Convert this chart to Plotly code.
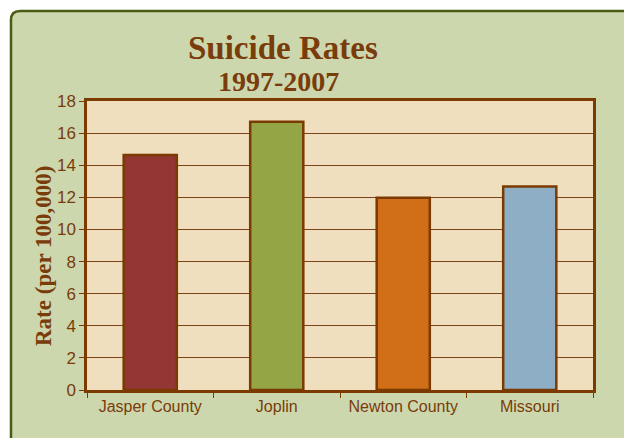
import plotly.graph_objects as go

categories = ["Jasper County", "Joplin", "Newton County", "Missouri"]
rates = [14.63, 16.71, 11.98, 12.68]
bar_colors = ["#943634", "#94a545", "#d06f17", "#8eaec5"]
y_ticks = [0, 2, 4, 6, 8, 10, 12, 14, 16, 18]

brown = "#7a3c0a"
panel = "#ccd7ad"

# page offset of 8px (body margin); plot area on page: x 87..593, y 101..390
OFF = 8
W, H = 632 - OFF, 438 - OFF
L, T = 87 - OFF, 101 - OFF
R = W - (593 - OFF)
B = H - (390 - OFF)
pw, ph = W - L - R, H - T - B

def px(x):
    return (x - 87) / pw

def py(y):
    return (390 - y) / ph

fig = go.Figure()
fig.add_trace(go.Bar(
    x=categories, y=rates, width=0.42,
    marker=dict(color=bar_colors, line=dict(color="#7a3a00", width=2.5)),
    hoverinfo="x+y",
))

x0, y1 = px(11), py(11)
dx, dy = 9 / pw, 9 / ph
xl, xr, yb, yt = px(-20), px(700), py(500), py(-20)
outside = (f"M {xl},{yb} L {xl},{yt} L {xr},{yt} L {xr},{y1} L {x0 + dx},{y1} "
           f"Q {x0},{y1} {x0},{y1 - dy} L {x0},{yb} Z")
border = f"M {x0},{yb} L {x0},{y1 - dy} Q {x0},{y1} {x0 + dx},{y1} L {xr},{y1}"

serif = "Liberation Serif, Times New Roman, serif"

fig.update_layout(
    width=W, height=H,
    margin=dict(l=L, r=R, t=T, b=B),
    paper_bgcolor=panel,
    plot_bgcolor="#f0dfbe",
    showlegend=False,
    font=dict(family="Liberation Sans, Arial, sans-serif", color=brown, size=16),
    shapes=[
        dict(type="path", xref="paper", yref="paper", path=outside,
             fillcolor="white", line=dict(width=0), layer="below"),
        dict(type="path", xref="paper", yref="paper", path=border,
             line=dict(color="#4a5c12", width=2.5), layer="below"),
    ],
    annotations=[
        dict(text="<b>Suicide Rates</b>", x=px(283), y=py(48), xref="paper", yref="paper",
             showarrow=False, xanchor="center", yanchor="middle",
             font=dict(family=serif, size=33, color=brown)),
        dict(text="<b>1997-2007</b>", x=px(278), y=py(81), xref="paper", yref="paper",
             showarrow=False, xanchor="center", yanchor="middle",
             font=dict(family=serif, size=28, color=brown)),
        dict(text="<b>Rate (per 100,000)</b>", x=px(43), y=py(256), xref="paper", yref="paper",
             showarrow=False, xanchor="center", yanchor="middle", textangle=-90,
             font=dict(family=serif, size=23, color=brown)),
    ],
)

fig.update_yaxes(
    range=[0, 18], tickvals=y_ticks, ticktext=[str(v) for v in y_ticks],
    showgrid=True, gridcolor="#7a4418", gridwidth=1,
    showline=True, linecolor="#7a3a00", linewidth=2.5, mirror=True,
    ticks="outside", ticklen=5, tickcolor="#7a3a00", tickwidth=1,
    tickfont=dict(size=17, color=brown), zeroline=False, fixedrange=True,
)
fig.update_xaxes(
    showline=True, linecolor="#7a3a00", linewidth=2.5, mirror=True,
    ticks="outside", tickson="boundaries", ticklen=5, tickcolor="#7a3a00", tickwidth=1,
    tickfont=dict(size=16, color=brown), fixedrange=True,
)

fig.write_html("out.html")
